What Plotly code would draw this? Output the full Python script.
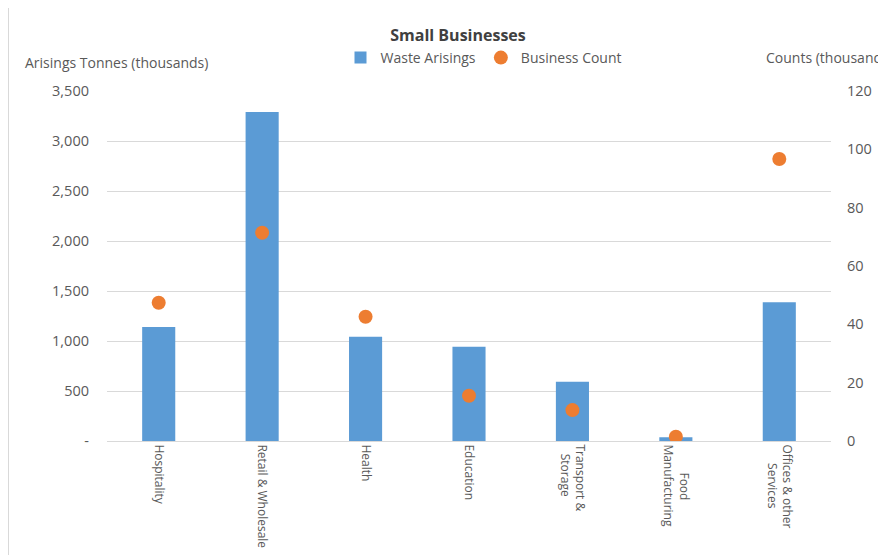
import plotly.graph_objects as go
from plotly.subplots import make_subplots

categories = ["Hospitality", "Retail & Wholesale", "Health", "Education",
              "Transport & Storage", "Food Manufacturing", "Offices & other Services"]
NB = "\u00a0"
tick_labels = ["Hospitality", "Retail & Wholesale", "Health", "Education",
               "Transport &<br>" + NB * 3 + "Storage",
               NB * 9 + "Food<br>Manufacturing",
               "Offices & other<br>" + NB * 6 + "Services"]
waste_arisings = [1140, 3290, 1043, 943, 593, 37, 1387]
business_count = [47.4, 71.4, 42.6, 15.5, 10.6, 1.5, 96.7]

left_tickvals = [0, 500, 1000, 1500, 2000, 2500, 3000, 3500]
left_ticktext = ["-", "500", "1,000", "1,500", "2,000", "2,500", "3,000", "3,500"]
right_tickvals = [0, 20, 40, 60, 80, 100, 120]

FONT = "Open Sans"
GREY = "#595959"
OFF = 8  # page body margin
W, H = 886 - OFF, 555 - OFF
L, R, T, B = 107 - OFF, 55, 91 - OFF, 114
PW = W - L - R
PH = H - T - B


def px(xabs):
    return (xabs - OFF - L) / PW


def py(yabs):
    return 1 - (yabs - OFF - T) / PH


fig = make_subplots(specs=[[{"secondary_y": True}]])
fig.add_trace(go.Bar(x=categories, y=waste_arisings, name="Waste Arisings",
                     marker=dict(color="#5b9bd5", line=dict(width=0)), width=0.32),
              secondary_y=False)
fig.add_trace(go.Scatter(x=categories, y=business_count, name="Business Count",
                         mode="markers", marker=dict(color="#ed7d31", size=14)),
              secondary_y=True)

fig.update_layout(
    width=W, height=H,
    margin=dict(l=L, r=R, t=T, b=B, autoexpand=False),
    paper_bgcolor="white", plot_bgcolor="white",
    font=dict(family=FONT, size=12, color=GREY),
    title=dict(text="<b>Small Businesses</b>", x=(458 - OFF) / W, xanchor="center",
               y=1 - (35 - OFF) / H, yanchor="middle",
               font=dict(family=FONT, size=16, color="#404040")),
    legend=dict(orientation="h", x=px(484), xanchor="center", y=py(58),
                yanchor="middle", font=dict(size=14, color=GREY),
                itemwidth=30, bgcolor="rgba(0,0,0,0)"),
    showlegend=True,
)
fig.update_xaxes(domain=[0, 1], tickangle=90, showline=True, linecolor="#d9d9d9",
                 tickmode="array", tickvals=categories, ticktext=tick_labels,
                 ticks="", tickfont=dict(size=12, color=GREY), showgrid=False)
fig.update_yaxes(range=[0, 3500], tickvals=left_tickvals, ticktext=left_ticktext,
                 showgrid=True, gridcolor="#d9d9d9", zeroline=False, showline=False,
                 ticks="", tickfont=dict(size=14.5, color=GREY), ticklabelstandoff=17,
                 secondary_y=False)
fig.update_yaxes(range=[0, 120], tickvals=right_tickvals, showgrid=False,
                 zeroline=False, showline=False, ticks="",
                 tickfont=dict(size=14.5, color=GREY), ticklabelstandoff=15,
                 secondary_y=True)

fig.add_annotation(text="Arisings Tonnes (thousands)", xref="paper", yref="paper",
                   x=px(23), y=py(62), xanchor="left", yanchor="middle",
                   showarrow=False, font=dict(size=14, color=GREY))
fig.add_annotation(text="Counts (thousands)", xref="paper", yref="paper",
                   x=px(764), y=py(58), xanchor="left", yanchor="middle",
                   showarrow=False, font=dict(size=14, color=GREY))
fig.add_shape(type="line", xref="paper", yref="paper",
              x0=px(8.5), x1=px(8.5), y0=py(555), y1=py(8),
              line=dict(color="#d9d9d9", width=1))

fig.write_html("out.html")
